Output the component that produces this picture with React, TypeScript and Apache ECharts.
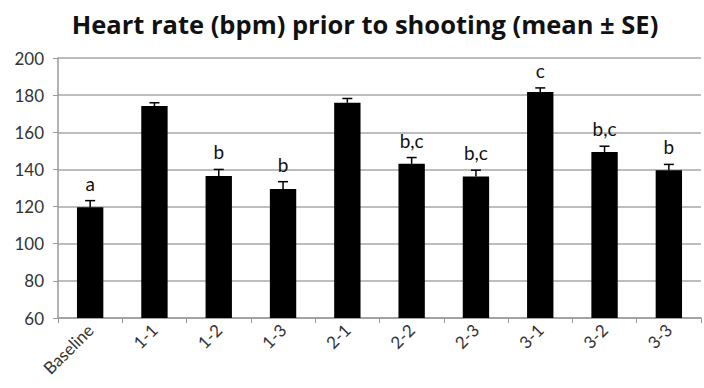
import React, { useEffect, useRef } from "react";
import * as echarts from "echarts";

const categories = ["Baseline", "1-1", "1-2", "1-3", "2-1", "2-2", "2-3", "3-1", "3-2", "3-3"];
const means = [119.7, 174.1, 136.5, 129.5, 175.9, 143, 136.2, 181.7, 149.4, 139.6];
const errors = [3.5, 1.8, 3.5, 3.9, 2.3, 3.4, 3.4, 2.2, 3.1, 3.1];
const letters = ["a", "", "b", "b", "", "b,c", "b,c", "c", "b,c", "b"];
const yTicks = { min: 60, max: 200, interval: 20 };

const FONT = "Lato, 'Open Sans', sans-serif";

export default function App() {
  const ref = useRef<HTMLDivElement>(null);
  useEffect(() => {
    const chart = echarts.init(ref.current!, null, { renderer: "svg" });
    chart.setOption({
      animation: false,
      backgroundColor: "#ffffff",
      title: {
        text: "Heart rate (bpm) prior to shooting (mean ± SE)",
        left: 360,
        top: 6,
        textAlign: "center",
        textStyle: { fontFamily: "'Open Sans', sans-serif", fontSize: 25.5, fontWeight: "bold", color: "#111" },
      },
      grid: { left: 58, right: 3, top: 58, bottom: 70 },
      xAxis: {
        type: "category",
        data: categories,
        axisLine: { lineStyle: { color: "#9a9a9a", width: 1.5 } },
        axisTick: { show: true, length: 5, lineStyle: { color: "#9a9a9a" } },
        axisLabel: { rotate: 45, fontFamily: FONT, fontSize: 17, color: "#333", margin: 9 },
      },
      yAxis: {
        type: "value",
        min: yTicks.min,
        max: yTicks.max,
        interval: yTicks.interval,
        axisLine: { show: true, lineStyle: { color: "#9a9a9a", width: 1.5 } },
        axisTick: { show: true, length: 5, lineStyle: { color: "#9a9a9a" } },
        axisLabel: { fontFamily: FONT, fontSize: 17, color: "#333", margin: 14 },
        splitLine: { lineStyle: { color: "#bdbdbd", width: 2 } },
      },
      series: [
        {
          type: "bar",
          data: means,
          barWidth: "41%",
          itemStyle: { color: "#000" },
        },
        {
          type: "custom",
          data: means.map((m, i) => [i, m, m + errors[i]]),
          renderItem: (params: any, api: any) => {
            const i = api.value(0);
            const base = api.coord([i, api.value(1)]);
            const top = api.coord([i, api.value(2)]);
            const children: any[] = [
              { type: "line", shape: { x1: base[0], y1: base[1], x2: top[0], y2: top[1] }, style: { stroke: "#000", lineWidth: 1.5 } },
              { type: "line", shape: { x1: top[0] - 5, y1: top[1], x2: top[0] + 5, y2: top[1] }, style: { stroke: "#000", lineWidth: 1.5 } },
            ];
            const t = letters[params.dataIndex];
            if (t) {
              children.push({
                type: "text",
                style: {
                  text: t,
                  x: top[0],
                  y: top[1] - 8,
                  textAlign: "center",
                  textVerticalAlign: "bottom",
                  fontFamily: FONT,
                  fontSize: 19,
                  fill: "#111",
                },
              });
            }
            return { type: "group", children };
          },
          z: 10,
        },
      ],
    });
    return () => chart.dispose();
  }, []);
  return <div ref={ref} style={{ width: 704, height: 388, position: "absolute", left: 0, top: 0 }} />;
}
